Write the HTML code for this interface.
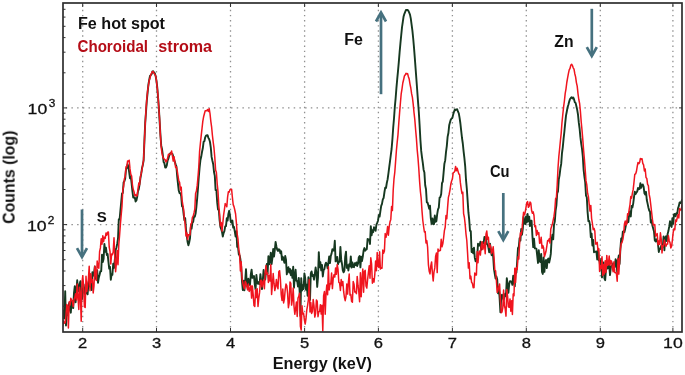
<!DOCTYPE html>
<html><head><meta charset="utf-8"><style>
html,body{margin:0;padding:0;background:#fff;}
body{width:685px;height:375px;overflow:hidden;position:relative;}
svg{position:absolute;left:0;top:0;will-change:transform;filter:blur(0.3px);}
</style></head><body>
<svg width="685" height="375" viewBox="0 0 685 375">
<defs><clipPath id="ax"><rect x="63.0" y="3.0" width="619.0" height="329.0"/></clipPath></defs>
<rect width="685" height="375" fill="#fff"/>
<g stroke="#909090" stroke-width="1.3" fill="none"><line x1="82.7" y1="3.0" x2="82.7" y2="332.0" stroke-dasharray="1.4 3.7" stroke-dashoffset="3.35"/><line x1="156.5" y1="3.0" x2="156.5" y2="332.0" stroke-dasharray="1.4 3.7" stroke-dashoffset="3.35"/><line x1="230.5" y1="3.0" x2="230.5" y2="332.0" stroke-dasharray="1.4 3.7" stroke-dashoffset="3.35"/><line x1="304.6" y1="3.0" x2="304.6" y2="332.0" stroke-dasharray="1.4 3.7" stroke-dashoffset="3.35"/><line x1="378.4" y1="3.0" x2="378.4" y2="332.0" stroke-dasharray="1.4 3.7" stroke-dashoffset="3.35"/><line x1="452.4" y1="3.0" x2="452.4" y2="332.0" stroke-dasharray="1.4 3.7" stroke-dashoffset="3.35"/><line x1="526.3" y1="3.0" x2="526.3" y2="332.0" stroke-dasharray="1.4 3.7" stroke-dashoffset="3.35"/><line x1="600.3" y1="3.0" x2="600.3" y2="332.0" stroke-dasharray="1.4 3.7" stroke-dashoffset="3.35"/><line x1="672.9" y1="3.0" x2="672.9" y2="332.0" stroke-dasharray="1.4 3.7" stroke-dashoffset="3.35"/><line x1="63.0" y1="107.9" x2="682.0" y2="107.9" stroke-dasharray="1.5 4.2" stroke-dashoffset="3.0"/><line x1="63.0" y1="224.6" x2="682.0" y2="224.6" stroke-dasharray="1.5 4.2" stroke-dashoffset="3.0"/></g>
<g clip-path="url(#ax)" fill="none" stroke-linejoin="round">
<path d="M58.0,320.4 L58.8,333.9 L59.6,330.7 L60.4,310.0 L61.2,311.1 L62.0,307.6 L62.8,318.2 L63.6,310.8 L64.4,318.4 L65.2,291.2 L66.0,325.5 L66.8,308.0 L67.6,315.2 L68.4,306.2 L69.2,303.0 L70.0,310.3 L70.8,312.7 L71.6,301.8 L72.4,301.3 L73.2,308.1 L74.0,292.9 L74.8,286.2 L75.6,302.3 L76.4,292.0 L77.2,280.3 L78.0,289.0 L78.8,291.2 L79.6,284.3 L80.4,281.2 L81.2,293.0 L82.0,299.2 L82.8,289.3 L83.6,284.5 L84.4,292.6 L85.2,294.4 L86.0,285.7 L86.8,291.4 L87.6,294.4 L88.4,284.1 L89.2,278.8 L90.0,286.5 L90.8,284.9 L91.6,290.1 L92.4,272.2 L93.2,275.7 L94.0,273.5 L94.8,266.5 L95.6,278.0 L96.4,279.6 L97.2,270.2 L98.0,282.8 L98.8,277.7 L99.6,274.8 L100.4,271.3 L101.2,271.3 L102.0,254.7 L102.8,262.0 L103.6,258.8 L104.4,243.9 L105.2,251.7 L106.0,247.8 L106.8,255.0 L107.6,253.9 L108.4,261.3 L109.2,268.6 L110.0,266.8 L110.8,279.8 L111.6,274.4 L112.4,274.8 L113.2,263.8 L114.0,268.0 L114.8,260.0 L115.6,250.1 L116.4,247.8 L117.2,243.9 L118.0,238.7 L118.8,219.2 L119.6,219.4 L120.4,210.7 L121.2,202.1 L122.0,193.6 L122.8,193.0 L123.6,182.3 L124.4,181.2 L125.2,178.4 L126.0,169.3 L126.8,168.0 L127.6,164.2 L128.4,166.9 L129.2,172.3 L130.0,178.4 L130.8,176.5 L131.6,183.3 L132.4,191.1 L133.2,197.5 L134.0,197.7 L134.8,197.3 L135.6,201.5 L136.4,200.5 L137.2,196.9 L138.0,191.1 L138.8,189.2 L139.6,184.2 L140.4,178.4 L141.2,173.9 L142.0,168.3 L142.8,165.1 L143.6,160.6 L144.4,141.5 L145.2,123.0 L146.0,112.0 L146.8,100.7 L147.6,92.6 L148.4,84.6 L149.2,80.0 L150.0,76.0 L150.8,75.1 L151.6,74.2 L152.4,71.5 L153.2,71.3 L154.0,72.6 L154.8,73.2 L155.6,75.9 L156.4,80.4 L157.2,86.8 L158.0,96.6 L158.8,107.1 L159.6,120.8 L160.4,134.2 L161.2,145.4 L162.0,149.0 L162.8,154.9 L163.6,162.0 L164.4,163.3 L165.2,167.5 L166.0,167.5 L166.8,165.4 L167.6,160.5 L168.4,158.7 L169.2,155.6 L170.0,153.6 L170.8,153.0 L171.6,153.6 L172.4,153.8 L173.2,156.3 L174.0,158.9 L174.8,161.9 L175.6,164.4 L176.4,166.3 L177.2,176.4 L178.0,184.1 L178.8,190.8 L179.6,193.1 L180.4,193.1 L181.2,196.1 L182.0,206.3 L182.8,206.7 L183.6,213.8 L184.4,220.1 L185.2,218.2 L186.0,229.6 L186.8,235.9 L187.6,242.1 L188.4,245.3 L189.2,242.4 L190.0,238.2 L190.8,227.3 L191.6,228.6 L192.4,222.7 L193.2,221.8 L194.0,216.4 L194.8,216.7 L195.6,213.6 L196.4,206.8 L197.2,198.2 L198.0,188.2 L198.8,177.0 L199.6,167.6 L200.4,160.3 L201.2,156.8 L202.0,152.0 L202.8,148.3 L203.6,141.8 L204.4,141.3 L205.2,137.3 L206.0,135.6 L206.8,135.3 L207.6,135.3 L208.4,137.9 L209.2,139.3 L210.0,142.0 L210.8,147.7 L211.6,156.9 L212.4,160.8 L213.2,164.2 L214.0,172.0 L214.8,175.9 L215.6,190.1 L216.4,190.2 L217.2,202.4 L218.0,209.5 L218.8,209.5 L219.6,220.1 L220.4,226.9 L221.2,229.1 L222.0,231.9 L222.8,236.5 L223.6,233.0 L224.4,231.2 L225.2,226.4 L226.0,226.1 L226.8,218.1 L227.6,220.6 L228.4,213.9 L229.2,210.8 L230.0,215.7 L230.8,222.0 L231.6,222.7 L232.4,220.6 L233.2,227.6 L234.0,226.8 L234.8,231.6 L235.6,236.5 L236.4,231.1 L237.2,246.9 L238.0,246.7 L238.8,254.3 L239.6,255.3 L240.4,259.3 L241.2,266.7 L242.0,281.5 L242.8,290.0 L243.6,280.8 L244.4,290.4 L245.2,281.1 L246.0,269.1 L246.8,283.7 L247.6,285.4 L248.4,278.8 L249.2,283.6 L250.0,285.0 L250.8,274.5 L251.6,269.7 L252.4,277.9 L253.2,277.5 L254.0,276.0 L254.8,284.8 L255.6,289.5 L256.4,274.9 L257.2,282.3 L258.0,283.8 L258.8,282.1 L259.6,284.2 L260.4,274.2 L261.2,281.3 L262.0,289.1 L262.8,280.2 L263.6,270.0 L264.4,276.7 L265.2,279.6 L266.0,272.0 L266.8,264.0 L267.6,273.8 L268.4,256.2 L269.2,264.4 L270.0,260.2 L270.8,252.6 L271.6,264.1 L272.4,258.1 L273.2,249.0 L274.0,256.6 L274.8,250.2 L275.6,241.9 L276.4,246.4 L277.2,249.7 L278.0,250.9 L278.8,249.2 L279.6,249.7 L280.4,253.2 L281.2,251.3 L282.0,259.9 L282.8,256.8 L283.6,259.6 L284.4,262.9 L285.2,256.0 L286.0,259.7 L286.8,274.4 L287.6,269.3 L288.4,267.2 L289.2,272.6 L290.0,269.0 L290.8,275.2 L291.6,270.4 L292.4,277.8 L293.2,266.7 L294.0,287.6 L294.8,276.1 L295.6,269.8 L296.4,280.8 L297.2,281.2 L298.0,286.5 L298.8,278.0 L299.6,290.6 L300.4,315.9 L301.2,278.1 L302.0,290.5 L302.8,285.3 L303.6,289.0 L304.4,273.4 L305.2,278.1 L306.0,289.7 L306.8,284.8 L307.6,295.7 L308.4,277.3 L309.2,282.1 L310.0,299.9 L310.8,273.4 L311.6,271.4 L312.4,276.1 L313.2,275.0 L314.0,279.7 L314.8,274.1 L315.6,267.5 L316.4,272.8 L317.2,286.9 L318.0,277.5 L318.8,252.1 L319.6,267.3 L320.4,262.3 L321.2,270.4 L322.0,265.0 L322.8,276.5 L323.6,270.1 L324.4,269.2 L325.2,264.6 L326.0,262.7 L326.8,264.1 L327.6,268.3 L328.4,262.7 L329.2,256.4 L330.0,263.1 L330.8,256.0 L331.6,253.4 L332.4,249.2 L333.2,250.3 L334.0,250.6 L334.8,240.8 L335.6,261.4 L336.4,260.3 L337.2,257.0 L338.0,264.3 L338.8,261.6 L339.6,261.8 L340.4,246.9 L341.2,259.4 L342.0,264.0 L342.8,270.4 L343.6,272.3 L344.4,270.6 L345.2,256.8 L346.0,251.6 L346.8,267.9 L347.6,265.1 L348.4,270.5 L349.2,264.3 L350.0,266.3 L350.8,256.4 L351.6,267.6 L352.4,262.4 L353.2,266.9 L354.0,267.2 L354.8,263.3 L355.6,265.1 L356.4,262.5 L357.2,266.0 L358.0,263.8 L358.8,257.2 L359.6,256.1 L360.4,267.4 L361.2,256.6 L362.0,261.1 L362.8,256.7 L363.6,250.5 L364.4,248.1 L365.2,250.7 L366.0,249.5 L366.8,249.3 L367.6,238.9 L368.4,239.6 L369.2,239.4 L370.0,244.0 L370.8,226.2 L371.6,235.4 L372.4,230.1 L373.2,232.2 L374.0,227.2 L374.8,228.5 L375.6,230.8 L376.4,224.7 L377.2,222.9 L378.0,220.7 L378.8,215.1 L379.6,216.6 L380.4,211.2 L381.2,205.8 L382.0,203.8 L382.8,199.4 L383.6,198.1 L384.4,192.5 L385.2,187.7 L386.0,188.0 L386.8,183.0 L387.6,179.4 L388.4,173.7 L389.2,167.4 L390.0,161.3 L390.8,155.0 L391.6,149.0 L392.4,139.3 L393.2,127.8 L394.0,118.5 L394.8,107.2 L395.6,98.7 L396.4,88.4 L397.2,79.3 L398.0,71.2 L398.8,62.2 L399.6,52.4 L400.4,43.6 L401.2,35.4 L402.0,27.3 L402.8,21.9 L403.6,16.4 L404.4,13.8 L405.2,11.8 L406.0,10.0 L406.8,9.9 L407.6,10.0 L408.4,10.9 L409.2,12.7 L410.0,14.6 L410.8,18.6 L411.6,24.7 L412.4,30.7 L413.2,38.5 L414.0,47.7 L414.8,57.9 L415.6,68.6 L416.4,79.3 L417.2,90.2 L418.0,101.4 L418.8,111.7 L419.6,125.1 L420.4,139.8 L421.2,150.9 L422.0,157.4 L422.8,162.9 L423.6,169.7 L424.4,172.6 L425.2,185.2 L426.0,189.3 L426.8,202.3 L427.6,202.7 L428.4,205.5 L429.2,208.9 L430.0,205.7 L430.8,218.2 L431.6,223.8 L432.4,218.4 L433.2,224.2 L434.0,224.1 L434.8,215.5 L435.6,221.9 L436.4,221.1 L437.2,214.2 L438.0,209.3 L438.8,207.6 L439.6,197.5 L440.4,197.1 L441.2,194.0 L442.0,183.2 L442.8,181.5 L443.6,172.6 L444.4,163.7 L445.2,160.4 L446.0,152.1 L446.8,146.1 L447.6,136.9 L448.4,133.0 L449.2,125.3 L450.0,122.3 L450.8,119.6 L451.6,118.5 L452.4,117.9 L453.2,114.4 L454.0,111.7 L454.8,109.5 L455.6,110.2 L456.4,109.4 L457.2,109.3 L458.0,111.7 L458.8,113.3 L459.6,117.8 L460.4,123.5 L461.2,130.9 L462.0,138.0 L462.8,143.5 L463.6,151.4 L464.4,158.2 L465.2,166.3 L466.0,179.7 L466.8,188.5 L467.6,200.1 L468.4,212.2 L469.2,219.7 L470.0,230.9 L470.8,231.2 L471.6,252.0 L472.4,248.9 L473.2,253.4 L474.0,247.7 L474.8,257.9 L475.6,261.4 L476.4,260.2 L477.2,257.4 L478.0,243.7 L478.8,245.7 L479.6,245.5 L480.4,241.8 L481.2,249.7 L482.0,244.3 L482.8,242.2 L483.6,243.5 L484.4,237.0 L485.2,237.3 L486.0,237.7 L486.8,244.0 L487.6,244.3 L488.4,247.5 L489.2,252.4 L490.0,243.6 L490.8,249.5 L491.6,255.2 L492.4,249.9 L493.2,256.9 L494.0,269.1 L494.8,274.0 L495.6,278.6 L496.4,276.4 L497.2,279.2 L498.0,293.3 L498.8,286.9 L499.6,297.9 L500.4,312.3 L501.2,298.5 L502.0,294.7 L502.8,297.4 L503.6,299.9 L504.4,297.4 L505.2,293.6 L506.0,295.9 L506.8,278.2 L507.6,284.2 L508.4,292.8 L509.2,284.3 L510.0,281.1 L510.8,281.4 L511.6,281.8 L512.4,284.9 L513.2,275.8 L514.0,281.3 L514.8,286.4 L515.6,269.6 L516.4,272.8 L517.2,261.1 L518.0,248.0 L518.8,246.8 L519.6,238.2 L520.4,240.6 L521.2,229.0 L522.0,234.7 L522.8,228.7 L523.6,216.9 L524.4,223.5 L525.2,224.1 L526.0,216.5 L526.8,222.5 L527.6,214.0 L528.4,221.3 L529.2,216.6 L530.0,226.1 L530.8,220.7 L531.6,220.7 L532.4,235.8 L533.2,247.1 L534.0,238.7 L534.8,248.3 L535.6,248.2 L536.4,248.7 L537.2,255.6 L538.0,263.0 L538.8,250.2 L539.6,261.3 L540.4,262.0 L541.2,253.9 L542.0,271.8 L542.8,273.9 L543.6,257.4 L544.4,271.9 L545.2,262.0 L546.0,260.1 L546.8,268.1 L547.6,259.8 L548.4,258.5 L549.2,262.5 L550.0,258.8 L550.8,253.9 L551.6,239.8 L552.4,234.8 L553.2,239.4 L554.0,224.7 L554.8,221.6 L555.6,210.7 L556.4,205.3 L557.2,193.5 L558.0,191.5 L558.8,179.3 L559.6,175.0 L560.4,168.4 L561.2,163.9 L562.0,153.0 L562.8,147.1 L563.6,138.7 L564.4,131.5 L565.2,123.1 L566.0,115.6 L566.8,111.5 L567.6,107.2 L568.4,104.7 L569.2,101.6 L570.0,99.0 L570.8,98.0 L571.6,97.3 L572.4,98.4 L573.2,97.4 L574.0,99.2 L574.8,102.2 L575.6,102.9 L576.4,106.2 L577.2,109.9 L578.0,114.7 L578.8,122.7 L579.6,128.5 L580.4,137.2 L581.2,143.6 L582.0,148.7 L582.8,156.5 L583.6,169.6 L584.4,176.7 L585.2,182.2 L586.0,195.7 L586.8,197.3 L587.6,212.1 L588.4,221.1 L589.2,220.9 L590.0,225.0 L590.8,237.1 L591.6,233.6 L592.4,245.5 L593.2,239.9 L594.0,252.2 L594.8,251.7 L595.6,251.7 L596.4,251.5 L597.2,259.5 L598.0,249.9 L598.8,260.3 L599.6,261.1 L600.4,268.5 L601.2,258.7 L602.0,277.4 L602.8,266.5 L603.6,262.4 L604.4,278.3 L605.2,280.2 L606.0,268.6 L606.8,263.7 L607.6,268.5 L608.4,263.5 L609.2,264.9 L610.0,275.1 L610.8,267.7 L611.6,265.6 L612.4,266.2 L613.2,263.3 L614.0,267.7 L614.8,267.1 L615.6,259.3 L616.4,261.0 L617.2,272.3 L618.0,260.3 L618.8,255.5 L619.6,263.9 L620.4,248.8 L621.2,238.4 L622.0,241.1 L622.8,231.8 L623.6,231.1 L624.4,232.3 L625.2,228.8 L626.0,224.7 L626.8,223.1 L627.6,219.9 L628.4,222.0 L629.2,213.1 L630.0,211.3 L630.8,216.5 L631.6,205.9 L632.4,207.5 L633.2,203.6 L634.0,197.2 L634.8,191.8 L635.6,194.0 L636.4,192.6 L637.2,191.5 L638.0,188.0 L638.8,189.2 L639.6,188.8 L640.4,183.1 L641.2,187.8 L642.0,185.2 L642.8,184.5 L643.6,186.5 L644.4,193.2 L645.2,194.5 L646.0,191.8 L646.8,200.0 L647.6,203.6 L648.4,207.5 L649.2,210.6 L650.0,211.5 L650.8,222.5 L651.6,220.1 L652.4,225.5 L653.2,228.4 L654.0,231.5 L654.8,240.4 L655.6,241.4 L656.4,239.3 L657.2,240.3 L658.0,244.2 L658.8,252.0 L659.6,248.6 L660.4,248.9 L661.2,245.8 L662.0,245.4 L662.8,246.6 L663.6,236.4 L664.4,250.3 L665.2,237.9 L666.0,236.3 L666.8,241.1 L667.6,234.0 L668.4,231.1 L669.2,226.7 L670.0,221.3 L670.8,225.4 L671.6,226.9 L672.4,218.2 L673.2,223.8 L674.0,214.3 L674.8,214.0 L675.6,216.3 L676.4,213.3 L677.2,213.8 L678.0,208.3 L678.8,206.1 L679.6,202.5 L680.4,203.1 L681.2,202.2 L682.0,200.1 L682.8,203.4 L683.6,199.7 L684.4,195.3 L685.2,205.2" stroke="#163820" stroke-width="1.9"/>
<path d="M58.0,329.9 L58.8,323.5 L59.6,318.2 L60.4,286.2 L61.2,322.1 L62.0,287.3 L62.8,326.0 L63.6,321.2 L64.4,323.3 L65.2,322.6 L66.0,315.3 L66.8,304.4 L67.6,306.6 L68.4,328.0 L69.2,301.7 L70.0,305.1 L70.8,298.3 L71.6,299.8 L72.4,301.3 L73.2,306.6 L74.0,299.4 L74.8,297.6 L75.6,293.7 L76.4,300.1 L77.2,283.9 L78.0,297.5 L78.8,309.5 L79.6,287.3 L80.4,293.7 L81.2,321.2 L82.0,282.6 L82.8,275.7 L83.6,286.4 L84.4,306.6 L85.2,307.4 L86.0,276.2 L86.8,291.5 L87.6,285.3 L88.4,279.0 L89.2,266.2 L90.0,290.8 L90.8,273.7 L91.6,282.4 L92.4,279.5 L93.2,293.0 L94.0,286.0 L94.8,266.2 L95.6,271.9 L96.4,280.5 L97.2,261.1 L98.0,266.3 L98.8,268.3 L99.6,251.7 L100.4,247.9 L101.2,238.7 L102.0,244.2 L102.8,235.7 L103.6,241.7 L104.4,237.2 L105.2,238.4 L106.0,233.1 L106.8,235.1 L107.6,232.3 L108.4,232.0 L109.2,247.0 L110.0,251.3 L110.8,264.0 L111.6,254.0 L112.4,254.7 L113.2,252.0 L114.0,237.7 L114.8,257.0 L115.6,271.7 L116.4,263.2 L117.2,250.6 L118.0,264.7 L118.8,244.5 L119.6,235.2 L120.4,224.2 L121.2,214.9 L122.0,206.3 L122.8,190.2 L123.6,186.5 L124.4,178.8 L125.2,176.4 L126.0,166.7 L126.8,166.8 L127.6,160.9 L128.4,161.4 L129.2,160.2 L130.0,168.9 L130.8,174.4 L131.6,175.8 L132.4,184.5 L133.2,189.3 L134.0,191.7 L134.8,195.5 L135.6,194.7 L136.4,196.1 L137.2,195.4 L138.0,188.9 L138.8,183.1 L139.6,184.9 L140.4,176.7 L141.2,173.6 L142.0,169.5 L142.8,164.5 L143.6,159.9 L144.4,141.1 L145.2,124.4 L146.0,109.6 L146.8,98.9 L147.6,91.0 L148.4,85.9 L149.2,80.4 L150.0,78.0 L150.8,74.7 L151.6,73.2 L152.4,71.6 L153.2,71.6 L154.0,73.4 L154.8,74.3 L155.6,75.6 L156.4,80.3 L157.2,87.6 L158.0,95.4 L158.8,108.0 L159.6,119.1 L160.4,135.6 L161.2,147.2 L162.0,153.3 L162.8,156.9 L163.6,158.4 L164.4,159.2 L165.2,159.9 L166.0,161.9 L166.8,160.8 L167.6,158.3 L168.4,154.3 L169.2,154.3 L170.0,154.5 L170.8,153.3 L171.6,150.9 L172.4,155.6 L173.2,161.1 L174.0,156.8 L174.8,161.6 L175.6,167.5 L176.4,166.9 L177.2,170.6 L178.0,175.9 L178.8,180.8 L179.6,182.3 L180.4,189.9 L181.2,187.1 L182.0,199.6 L182.8,204.7 L183.6,209.3 L184.4,218.6 L185.2,224.4 L186.0,235.9 L186.8,233.0 L187.6,239.5 L188.4,234.8 L189.2,234.8 L190.0,234.9 L190.8,224.1 L191.6,223.3 L192.4,217.3 L193.2,216.1 L194.0,212.9 L194.8,209.1 L195.6,193.4 L196.4,191.0 L197.2,185.4 L198.0,177.1 L198.8,166.5 L199.6,151.4 L200.4,143.2 L201.2,135.6 L202.0,128.6 L202.8,121.4 L203.6,116.8 L204.4,113.8 L205.2,110.7 L206.0,110.7 L206.8,110.7 L207.6,109.5 L208.4,111.5 L209.2,108.7 L210.0,113.5 L210.8,121.1 L211.6,126.8 L212.4,135.2 L213.2,142.1 L214.0,148.2 L214.8,157.5 L215.6,170.1 L216.4,172.5 L217.2,183.9 L218.0,191.6 L218.8,205.5 L219.6,214.4 L220.4,225.8 L221.2,222.5 L222.0,231.1 L222.8,223.3 L223.6,215.1 L224.4,209.6 L225.2,203.6 L226.0,204.6 L226.8,206.8 L227.6,197.1 L228.4,191.7 L229.2,192.1 L230.0,189.7 L230.8,189.4 L231.6,189.2 L232.4,197.5 L233.2,204.6 L234.0,206.6 L234.8,210.0 L235.6,214.0 L236.4,222.9 L237.2,234.2 L238.0,239.2 L238.8,249.8 L239.6,254.0 L240.4,271.0 L241.2,261.7 L242.0,277.7 L242.8,283.0 L243.6,286.5 L244.4,288.8 L245.2,281.3 L246.0,282.9 L246.8,286.9 L247.6,289.9 L248.4,284.1 L249.2,291.5 L250.0,289.3 L250.8,285.6 L251.6,298.1 L252.4,286.0 L253.2,294.9 L254.0,305.6 L254.8,306.5 L255.6,289.5 L256.4,297.5 L257.2,288.8 L258.0,306.4 L258.8,298.2 L259.6,292.4 L260.4,280.9 L261.2,280.0 L262.0,286.9 L262.8,282.1 L263.6,280.4 L264.4,288.7 L265.2,272.0 L266.0,265.6 L266.8,274.2 L267.6,273.0 L268.4,282.4 L269.2,275.4 L270.0,281.0 L270.8,264.8 L271.6,294.5 L272.4,284.8 L273.2,273.6 L274.0,283.2 L274.8,290.6 L275.6,287.2 L276.4,279.4 L277.2,285.7 L278.0,288.8 L278.8,271.8 L279.6,270.7 L280.4,279.2 L281.2,294.6 L282.0,300.4 L282.8,289.1 L283.6,302.9 L284.4,299.1 L285.2,289.7 L286.0,284.0 L286.8,285.7 L287.6,293.6 L288.4,307.7 L289.2,302.9 L290.0,281.9 L290.8,283.3 L291.6,305.1 L292.4,299.5 L293.2,288.1 L294.0,306.1 L294.8,314.3 L295.6,308.9 L296.4,302.1 L297.2,316.4 L298.0,298.0 L298.8,296.4 L299.6,293.3 L300.4,326.3 L301.2,330.0 L302.0,305.7 L302.8,314.1 L303.6,313.4 L304.4,320.1 L305.2,324.1 L306.0,318.7 L306.8,309.9 L307.6,305.3 L308.4,299.6 L309.2,279.6 L310.0,312.0 L310.8,302.5 L311.6,313.5 L312.4,311.5 L313.2,299.5 L314.0,305.9 L314.8,317.1 L315.6,313.6 L316.4,300.0 L317.2,301.1 L318.0,316.7 L318.8,311.7 L319.6,311.5 L320.4,304.7 L321.2,314.1 L322.0,305.3 L322.8,331.1 L323.6,295.9 L324.4,291.6 L325.2,314.2 L326.0,294.1 L326.8,285.0 L327.6,294.7 L328.4,266.7 L329.2,289.9 L330.0,283.8 L330.8,283.9 L331.6,273.1 L332.4,288.6 L333.2,278.7 L334.0,274.7 L334.8,277.0 L335.6,267.9 L336.4,274.3 L337.2,264.6 L338.0,269.1 L338.8,282.3 L339.6,282.9 L340.4,290.4 L341.2,279.5 L342.0,285.6 L342.8,281.4 L343.6,291.2 L344.4,297.1 L345.2,300.7 L346.0,296.5 L346.8,283.9 L347.6,294.1 L348.4,282.4 L349.2,274.0 L350.0,295.1 L350.8,294.5 L351.6,301.3 L352.4,302.2 L353.2,281.5 L354.0,284.2 L354.8,292.1 L355.6,291.7 L356.4,293.6 L357.2,276.4 L358.0,285.2 L358.8,292.0 L359.6,301.8 L360.4,272.7 L361.2,296.7 L362.0,279.4 L362.8,269.0 L363.6,292.2 L364.4,271.5 L365.2,270.4 L366.0,285.9 L366.8,288.1 L367.6,279.6 L368.4,272.6 L369.2,265.8 L370.0,278.2 L370.8,257.8 L371.6,264.2 L372.4,283.2 L373.2,278.7 L374.0,282.1 L374.8,274.4 L375.6,261.1 L376.4,270.8 L377.2,252.6 L378.0,266.4 L378.8,267.4 L379.6,251.7 L380.4,269.1 L381.2,268.1 L382.0,268.2 L382.8,250.1 L383.6,253.2 L384.4,251.1 L385.2,233.6 L386.0,237.3 L386.8,233.7 L387.6,226.6 L388.4,235.3 L389.2,226.6 L390.0,221.8 L390.8,219.4 L391.6,206.4 L392.4,210.6 L393.2,190.2 L394.0,178.8 L394.8,172.2 L395.6,161.4 L396.4,150.5 L397.2,142.1 L398.0,134.6 L398.8,122.9 L399.6,112.6 L400.4,103.0 L401.2,93.8 L402.0,88.8 L402.8,83.0 L403.6,79.8 L404.4,76.0 L405.2,75.0 L406.0,73.2 L406.8,74.0 L407.6,73.6 L408.4,76.7 L409.2,79.1 L410.0,84.1 L410.8,88.0 L411.6,93.7 L412.4,97.4 L413.2,104.1 L414.0,112.5 L414.8,119.5 L415.6,129.5 L416.4,138.4 L417.2,149.9 L418.0,158.1 L418.8,168.7 L419.6,181.4 L420.4,191.5 L421.2,198.5 L422.0,210.9 L422.8,220.5 L423.6,226.5 L424.4,232.0 L425.2,231.6 L426.0,242.9 L426.8,240.6 L427.6,247.1 L428.4,264.6 L429.2,271.2 L430.0,273.9 L430.8,266.0 L431.6,261.9 L432.4,273.1 L433.2,281.0 L434.0,271.8 L434.8,267.9 L435.6,256.5 L436.4,253.1 L437.2,272.6 L438.0,249.1 L438.8,251.2 L439.6,250.4 L440.4,250.5 L441.2,239.3 L442.0,246.7 L442.8,243.8 L443.6,237.8 L444.4,230.6 L445.2,227.3 L446.0,215.6 L446.8,218.7 L447.6,207.4 L448.4,197.4 L449.2,194.2 L450.0,189.8 L450.8,184.3 L451.6,181.0 L452.4,179.0 L453.2,172.7 L454.0,172.4 L454.8,171.1 L455.6,166.4 L456.4,170.8 L457.2,168.3 L458.0,171.2 L458.8,173.9 L459.6,174.6 L460.4,182.9 L461.2,188.8 L462.0,193.6 L462.8,192.2 L463.6,213.7 L464.4,217.5 L465.2,224.5 L466.0,234.1 L466.8,240.5 L467.6,253.4 L468.4,268.1 L469.2,262.7 L470.0,278.7 L470.8,276.1 L471.6,282.4 L472.4,283.3 L473.2,287.7 L474.0,287.6 L474.8,272.9 L475.6,275.1 L476.4,274.9 L477.2,251.6 L478.0,262.8 L478.8,253.0 L479.6,251.0 L480.4,255.1 L481.2,246.0 L482.0,241.7 L482.8,249.6 L483.6,246.8 L484.4,242.6 L485.2,253.7 L486.0,234.2 L486.8,231.0 L487.6,239.5 L488.4,237.2 L489.2,247.5 L490.0,244.8 L490.8,247.3 L491.6,253.6 L492.4,251.2 L493.2,246.8 L494.0,257.1 L494.8,270.0 L495.6,270.7 L496.4,280.9 L497.2,292.4 L498.0,290.6 L498.8,286.6 L499.6,284.0 L500.4,299.1 L501.2,312.8 L502.0,312.0 L502.8,307.7 L503.6,290.1 L504.4,305.8 L505.2,308.8 L506.0,316.2 L506.8,289.5 L507.6,296.6 L508.4,306.9 L509.2,307.3 L510.0,298.9 L510.8,311.3 L511.6,300.8 L512.4,314.5 L513.2,293.9 L514.0,295.8 L514.8,268.3 L515.6,282.5 L516.4,267.7 L517.2,269.5 L518.0,256.8 L518.8,259.0 L519.6,243.1 L520.4,232.8 L521.2,234.9 L522.0,230.5 L522.8,219.4 L523.6,212.2 L524.4,215.1 L525.2,212.2 L526.0,207.4 L526.8,202.7 L527.6,201.6 L528.4,207.3 L529.2,206.0 L530.0,202.1 L530.8,203.0 L531.6,210.5 L532.4,213.2 L533.2,211.8 L534.0,215.5 L534.8,226.8 L535.6,225.9 L536.4,235.4 L537.2,230.6 L538.0,234.2 L538.8,232.7 L539.6,243.3 L540.4,242.9 L541.2,237.2 L542.0,248.3 L542.8,245.4 L543.6,247.7 L544.4,256.8 L545.2,254.3 L546.0,251.3 L546.8,246.3 L547.6,240.6 L548.4,240.9 L549.2,238.9 L550.0,243.0 L550.8,228.9 L551.6,226.4 L552.4,223.9 L553.2,220.1 L554.0,216.2 L554.8,210.0 L555.6,198.7 L556.4,197.5 L557.2,184.9 L558.0,168.0 L558.8,156.9 L559.6,149.0 L560.4,140.8 L561.2,133.1 L562.0,122.3 L562.8,114.5 L563.6,106.9 L564.4,101.0 L565.2,93.3 L566.0,88.8 L566.8,82.5 L567.6,77.8 L568.4,73.7 L569.2,69.8 L570.0,68.5 L570.8,65.3 L571.6,64.3 L572.4,65.4 L573.2,67.8 L574.0,69.2 L574.8,73.7 L575.6,76.9 L576.4,82.6 L577.2,86.2 L578.0,93.6 L578.8,99.5 L579.6,103.3 L580.4,111.4 L581.2,121.8 L582.0,130.0 L582.8,139.6 L583.6,150.2 L584.4,159.2 L585.2,169.9 L586.0,180.9 L586.8,184.9 L587.6,193.2 L588.4,196.7 L589.2,204.4 L590.0,211.1 L590.8,205.4 L591.6,218.5 L592.4,223.5 L593.2,229.7 L594.0,228.3 L594.8,230.9 L595.6,244.1 L596.4,243.9 L597.2,242.4 L598.0,250.6 L598.8,248.6 L599.6,271.4 L600.4,265.7 L601.2,268.5 L602.0,256.8 L602.8,275.4 L603.6,264.4 L604.4,273.9 L605.2,260.7 L606.0,272.2 L606.8,255.4 L607.6,265.5 L608.4,264.4 L609.2,256.0 L610.0,265.2 L610.8,260.6 L611.6,261.3 L612.4,268.5 L613.2,271.8 L614.0,261.7 L614.8,272.5 L615.6,272.8 L616.4,273.3 L617.2,281.2 L618.0,258.6 L618.8,274.1 L619.6,260.6 L620.4,249.5 L621.2,243.4 L622.0,242.6 L622.8,239.5 L623.6,234.7 L624.4,224.3 L625.2,221.1 L626.0,225.2 L626.8,223.7 L627.6,213.8 L628.4,214.9 L629.2,209.4 L630.0,204.5 L630.8,196.6 L631.6,198.2 L632.4,193.1 L633.2,189.4 L634.0,182.2 L634.8,174.2 L635.6,174.1 L636.4,171.6 L637.2,166.7 L638.0,162.5 L638.8,163.7 L639.6,162.6 L640.4,158.5 L641.2,159.3 L642.0,158.7 L642.8,163.3 L643.6,164.9 L644.4,170.9 L645.2,169.0 L646.0,177.5 L646.8,178.4 L647.6,184.3 L648.4,185.7 L649.2,194.4 L650.0,198.3 L650.8,205.2 L651.6,212.2 L652.4,219.2 L653.2,224.9 L654.0,224.9 L654.8,224.5 L655.6,236.2 L656.4,234.8 L657.2,233.6 L658.0,244.8 L658.8,241.0 L659.6,244.3 L660.4,232.8 L661.2,238.9 L662.0,253.0 L662.8,245.7 L663.6,246.0 L664.4,240.1 L665.2,243.4 L666.0,246.2 L666.8,244.1 L667.6,244.1 L668.4,235.5 L669.2,240.7 L670.0,242.6 L670.8,248.0 L671.6,246.3 L672.4,240.0 L673.2,232.4 L674.0,228.7 L674.8,229.8 L675.6,219.9 L676.4,221.5 L677.2,217.9 L678.0,214.7 L678.8,217.9 L679.6,208.6 L680.4,209.8 L681.2,210.1 L682.0,204.8 L682.8,201.6 L683.6,196.4 L684.4,203.8 L685.2,195.0" stroke="#f0141e" stroke-width="1.5"/>
</g>
<path d="M82.7,332.0 v-4 M82.7,3.0 v4 M156.5,332.0 v-4 M156.5,3.0 v4 M230.5,332.0 v-4 M230.5,3.0 v4 M304.6,332.0 v-4 M304.6,3.0 v4 M378.4,332.0 v-4 M378.4,3.0 v4 M452.4,332.0 v-4 M452.4,3.0 v4 M526.3,332.0 v-4 M526.3,3.0 v4 M600.3,332.0 v-4 M600.3,3.0 v4 M672.9,332.0 v-4 M672.9,3.0 v4 M63.0,306.2 h2.5 M63.0,285.6 h2.5 M63.0,271.0 h2.5 M63.0,259.7 h2.5 M63.0,250.5 h2.5 M63.0,242.7 h2.5 M63.0,235.9 h2.5 M63.0,229.9 h2.5 M63.0,224.6 h4 M682.0,224.6 h-3 M63.0,189.5 h2.5 M63.0,168.9 h2.5 M63.0,154.3 h2.5 M63.0,143.0 h2.5 M63.0,133.8 h2.5 M63.0,126.0 h2.5 M63.0,119.2 h2.5 M63.0,113.2 h2.5 M63.0,107.9 h4 M682.0,107.9 h-3 M63.0,72.8 h2.5 M63.0,52.2 h2.5 M63.0,37.6 h2.5 M63.0,26.3 h2.5 M63.0,17.1 h2.5 M63.0,9.3 h2.5" stroke="#333" stroke-width="1" fill="none"/>
<rect x="63.0" y="3.0" width="619.0" height="329.0" fill="none" stroke="#2e2e2e" stroke-width="1.7"/>
<g font-family="Liberation Sans, sans-serif" font-size="14.7" fill="#111" stroke="#111" stroke-width="0.3" opacity="0.999">
<text x="78.1" y="347.6" textLength="9.2" lengthAdjust="spacingAndGlyphs">2</text><text x="151.9" y="347.6" textLength="9.2" lengthAdjust="spacingAndGlyphs">3</text><text x="225.9" y="347.6" textLength="9.2" lengthAdjust="spacingAndGlyphs">4</text><text x="300.0" y="347.6" textLength="9.2" lengthAdjust="spacingAndGlyphs">5</text><text x="373.8" y="347.6" textLength="9.2" lengthAdjust="spacingAndGlyphs">6</text><text x="447.8" y="347.6" textLength="9.2" lengthAdjust="spacingAndGlyphs">7</text><text x="521.7" y="347.6" textLength="9.2" lengthAdjust="spacingAndGlyphs">8</text><text x="595.7" y="347.6" textLength="9.2" lengthAdjust="spacingAndGlyphs">9</text><text x="663.1" y="347.6" textLength="19.6" lengthAdjust="spacingAndGlyphs">10</text>
<text x="27.6" y="114.3" textLength="19.6" lengthAdjust="spacingAndGlyphs">10</text><text x="48.8" y="107.3" font-size="10.8" textLength="6.6" lengthAdjust="spacingAndGlyphs">3</text>
<text x="27" y="230.6" textLength="19.6" lengthAdjust="spacingAndGlyphs">10</text><text x="47.8" y="224.2" font-size="10.8" textLength="6.6" lengthAdjust="spacingAndGlyphs">2</text>
</g>
<g stroke="#46717f" stroke-width="2.7" fill="none" stroke-linecap="butt"><path d="M82,209.5 V256.6" /><path d="M77.0,248.10000000000002 L82,257.0 L87.0,248.10000000000002" /><path d="M381,94.2 V13" /><path d="M376.0,21.5 L381,12.6 L386.0,21.5" /><path d="M503.3,193 V239.6" /><path d="M498.3,231.1 L503.3,240.0 L508.3,231.1" /><path d="M591.8,8.8 V55.6" /><path d="M586.8,47.1 L591.8,56.0 L596.8,47.1" /></g>
<g font-family="Liberation Sans, sans-serif" font-weight="bold" font-size="16" opacity="0.999">
<text x="78" y="28.8" fill="#111" textLength="87" lengthAdjust="spacingAndGlyphs">Fe hot spot</text>
<text x="77.5" y="51.5" fill="#b40c16" textLength="70.5" lengthAdjust="spacingAndGlyphs">Choroidal</text>
<text x="158.3" y="51.5" fill="#b40c16" textLength="53.8" lengthAdjust="spacingAndGlyphs">stroma</text>
<text x="344.2" y="45.3" fill="#111" textLength="18.6" lengthAdjust="spacingAndGlyphs">Fe</text>
<text x="554.3" y="47.3" fill="#111" textLength="19.2" lengthAdjust="spacingAndGlyphs">Zn</text>
<text x="490" y="177.3" fill="#111" textLength="19.6" lengthAdjust="spacingAndGlyphs">Cu</text>
<text x="96.8" y="222.3" fill="#111" font-size="15">S</text>
<text x="272.8" y="369.4" fill="#111" textLength="99.2" lengthAdjust="spacingAndGlyphs">Energy (keV)</text>
<text transform="translate(14.6,223.8) rotate(-90)" fill="#111" textLength="93.2" lengthAdjust="spacingAndGlyphs">Counts (log)</text>
</g>
</svg>
</body></html>
